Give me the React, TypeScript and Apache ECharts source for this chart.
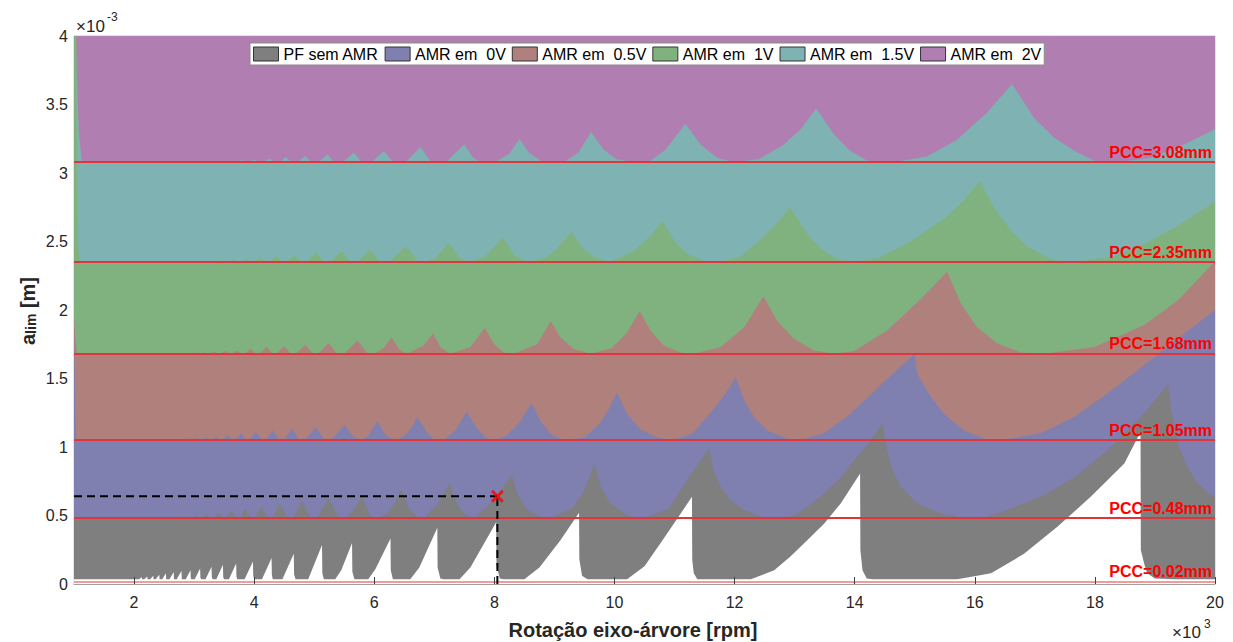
import React, { useEffect, useRef } from 'react';
import * as echarts from 'echarts';

const FONT = "'Liberation Sans', Arial, Helvetica, sans-serif";

// x: rotation in thousands of rpm (axis shows x10^3); y: a_lim in units of 1e-3 m (axis shows x10^-3)
const xTickValues = [2, 4, 6, 8, 10, 12, 14, 16, 18, 20];

const seriesNames = ['PF sem AMR', 'AMR em  0V', 'AMR em  0.5V', 'AMR em  1V', 'AMR em  1.5V', 'AMR em  2V'];
const seriesColors = ['#7f7f7f', '#7f7fb0', '#b0807c', '#80b280', '#7fb2b2', '#b07eb0'];

const pccValues = [3.08, 2.35, 1.68, 1.05, 0.48, 0.02];
const pccLabels = ['PCC=3.08mm', 'PCC=2.35mm', 'PCC=1.68mm', 'PCC=1.05mm', 'PCC=0.48mm', 'PCC=0.02mm'];

const pointRpm = 8.05;
const pointALim = 0.64;

const curve2V = [[1.0, 4.0], [20.0, 4.0]];

const curve15V = [
  [1.0, 4.2], [1.05, 3.7], [1.08, 3.3], [1.13, 3.08],
  [3.45, 3.08], [3.6, 3.09], [3.66, 3.08], [3.72, 3.08], [3.79, 3.095], [3.85, 3.08], [3.91, 3.08],
  [4.0, 3.1], [4.07, 3.08], [4.15, 3.08], [4.26, 3.105], [4.34, 3.08], [4.42, 3.08], [4.53, 3.115],
  [4.62, 3.08], [4.72, 3.08], [4.85, 3.125], [4.95, 3.08], [5.07, 3.08], [5.22, 3.135], [5.33, 3.08],
  [5.48, 3.08], [5.66, 3.15], [5.79, 3.08], [5.96, 3.08], [6.16, 3.16], [6.31, 3.08], [6.52, 3.08],
  [6.77, 3.19], [6.93, 3.09], [7.0, 3.08], [7.22, 3.09], [7.5, 3.21], [7.65, 3.11], [7.78, 3.08],
  [8.05, 3.09], [8.25, 3.14], [8.42, 3.25], [8.57, 3.15], [8.77, 3.09], [8.93, 3.08], [9.2, 3.09],
  [9.4, 3.15], [9.61, 3.3], [9.82, 3.17], [10.04, 3.1], [10.32, 3.08], [10.6, 3.09], [10.85, 3.17],
  [11.18, 3.36], [11.43, 3.21], [11.71, 3.11], [11.99, 3.08], [12.4, 3.1], [12.8, 3.2], [13.1, 3.32],
  [13.36, 3.47], [13.66, 3.28], [13.93, 3.16], [14.21, 3.09], [14.66, 3.08], [15.2, 3.12], [15.7, 3.24],
  [16.2, 3.44], [16.62, 3.65], [16.99, 3.4], [17.32, 3.26], [17.66, 3.16], [17.99, 3.09], [18.38, 3.08],
  [18.93, 3.11], [19.49, 3.21], [20.0, 3.32],
];

const curve1V = [
  [1.0, 4.2], [1.04, 4.0], [1.05, 2.8], [1.07, 2.45], [1.1, 2.35], [3.2, 2.35], [3.29, 2.36], [3.35, 2.35],
  [3.4, 2.35], [3.47, 2.365], [3.54, 2.35], [3.58, 2.35], [3.66, 2.37], [3.74, 2.35], [3.78, 2.35],
  [3.86, 2.375], [3.95, 2.35], [4.0, 2.35], [4.1, 2.385], [4.2, 2.35], [4.25, 2.35], [4.37, 2.395],
  [4.48, 2.35], [4.54, 2.35], [4.67, 2.4], [4.79, 2.35], [4.87, 2.35], [5.03, 2.42], [5.16, 2.35],
  [5.26, 2.35], [5.46, 2.43], [5.6, 2.35], [5.72, 2.35], [5.93, 2.44], [6.1, 2.35], [6.25, 2.35],
  [6.53, 2.465], [6.72, 2.36], [6.8, 2.35], [7.0, 2.37], [7.24, 2.49], [7.42, 2.38], [7.58, 2.35],
  [7.85, 2.39], [8.14, 2.53], [8.34, 2.4], [8.55, 2.35], [8.85, 2.38], [9.05, 2.45], [9.28, 2.57],
  [9.46, 2.46], [9.66, 2.385], [9.93, 2.35], [10.32, 2.43], [10.6, 2.54], [10.8, 2.65], [10.99, 2.51],
  [11.21, 2.41], [11.54, 2.35], [11.76, 2.35], [12.1, 2.39], [12.45, 2.52], [12.7, 2.63], [12.92, 2.75],
  [13.21, 2.555], [13.43, 2.45], [13.71, 2.37], [13.99, 2.35], [14.4, 2.38], [14.93, 2.5], [15.5, 2.67],
  [15.8, 2.79], [16.08, 2.94], [16.32, 2.75], [16.6, 2.58], [16.88, 2.46], [17.27, 2.37], [17.6, 2.35],
  [18.27, 2.385], [18.82, 2.48], [19.38, 2.615], [20.0, 2.79],
];

const curve05V = [
  [1.0, 1.95], [1.02, 1.8], [1.05, 1.68], [2.8, 1.68], [2.88, 1.688], [2.93, 1.68], [2.96, 1.68],
  [3.02, 1.69], [3.08, 1.68], [3.1, 1.68], [3.17, 1.692], [3.23, 1.68], [3.26, 1.68], [3.33, 1.695],
  [3.4, 1.68], [3.44, 1.68], [3.52, 1.7], [3.6, 1.68], [3.63, 1.68], [3.71, 1.705], [3.79, 1.68],
  [3.84, 1.68], [3.94, 1.717], [4.03, 1.68], [4.09, 1.68], [4.21, 1.73], [4.31, 1.68], [4.37, 1.68],
  [4.5, 1.736], [4.61, 1.68], [4.69, 1.68], [4.85, 1.746], [4.98, 1.68], [5.06, 1.68], [5.24, 1.76],
  [5.38, 1.68], [5.5, 1.68], [5.72, 1.78], [5.87, 1.69], [6.0, 1.68], [6.15, 1.72], [6.29, 1.8],
  [6.42, 1.71], [6.54, 1.68], [6.82, 1.74], [6.98, 1.83], [7.1, 1.73], [7.27, 1.68], [7.6, 1.73],
  [7.84, 1.87], [7.99, 1.754], [8.16, 1.69], [8.32, 1.68], [8.71, 1.75], [8.94, 1.92], [9.1, 1.8],
  [9.32, 1.717], [9.6, 1.68], [9.95, 1.72], [10.2, 1.83], [10.42, 1.99], [10.6, 1.85], [10.82, 1.74],
  [11.1, 1.69], [11.32, 1.68], [11.77, 1.73], [12.16, 1.875], [12.48, 2.1], [12.71, 1.92], [12.99, 1.79],
  [13.32, 1.705], [13.66, 1.68], [13.99, 1.7], [14.54, 1.85], [15.1, 2.08], [15.54, 2.28], [15.77, 2.045],
  [16.04, 1.875], [16.38, 1.754], [16.77, 1.69], [17.16, 1.68], [17.99, 1.73], [18.82, 1.89],
  [19.38, 2.07], [20.0, 2.355],
];

const curve0V = [
  [1.0, 1.9], [1.02, 1.3], [1.04, 1.05], [2.4, 1.05], [2.46, 1.055], [2.5, 1.05], [2.58, 1.05],
  [2.63, 1.058], [2.67, 1.05], [2.71, 1.05], [2.76, 1.06], [2.8, 1.05], [2.84, 1.05], [2.89, 1.063],
  [2.94, 1.05], [2.97, 1.05], [3.03, 1.066], [3.09, 1.05], [3.12, 1.05], [3.19, 1.07], [3.25, 1.05],
  [3.29, 1.05], [3.37, 1.075], [3.44, 1.05], [3.47, 1.05], [3.56, 1.086], [3.64, 1.05], [3.68, 1.05],
  [3.78, 1.1], [3.87, 1.05], [3.92, 1.05], [4.03, 1.11], [4.13, 1.05], [4.19, 1.05], [4.31, 1.12],
  [4.42, 1.05], [4.49, 1.05], [4.63, 1.134], [4.76, 1.05], [4.85, 1.05], [5.03, 1.146], [5.17, 1.05],
  [5.28, 1.05], [5.51, 1.16], [5.64, 1.08], [5.78, 1.05], [5.9, 1.08], [6.05, 1.19], [6.2, 1.08],
  [6.35, 1.05], [6.5, 1.08], [6.62, 1.14], [6.72, 1.22], [6.87, 1.11], [7.0, 1.05], [7.15, 1.05],
  [7.35, 1.12], [7.54, 1.26], [7.7, 1.14], [7.85, 1.07], [8.0, 1.05], [8.2, 1.08], [8.42, 1.18],
  [8.62, 1.32], [8.78, 1.18], [8.95, 1.09], [9.15, 1.05], [9.5, 1.07], [9.75, 1.17], [9.9, 1.27],
  [10.04, 1.4], [10.21, 1.24], [10.43, 1.13], [10.71, 1.07], [10.99, 1.05], [11.3, 1.1], [11.6, 1.25],
  [11.85, 1.39], [12.02, 1.51], [12.16, 1.34], [12.32, 1.22], [12.54, 1.12], [12.88, 1.06], [13.1, 1.05],
  [13.49, 1.1], [13.93, 1.24], [14.38, 1.43], [14.82, 1.61], [15.0, 1.68], [15.04, 1.535], [15.27, 1.365],
  [15.49, 1.24], [15.82, 1.12], [16.16, 1.06], [16.43, 1.05], [17.1, 1.1], [17.66, 1.22], [18.21, 1.39],
  [18.77, 1.58], [19.38, 1.79], [20.0, 2.0],
];

// upper edge of the "PF sem AMR" band
const curvePF = [
  [1.0, 0.48], [2.44, 0.48], [2.49, 0.488], [2.53, 0.48], [2.59, 0.48], [2.63, 0.49], [2.67, 0.48],
  [2.72, 0.48], [2.77, 0.493], [2.82, 0.48], [2.86, 0.48], [2.91, 0.497], [2.96, 0.48], [2.99, 0.48],
  [3.04, 0.503], [3.1, 0.48], [3.14, 0.48], [3.21, 0.51], [3.28, 0.48], [3.33, 0.48], [3.41, 0.52],
  [3.49, 0.48], [3.53, 0.48], [3.62, 0.535], [3.71, 0.48], [3.76, 0.48], [3.85, 0.55], [3.95, 0.48],
  [4.01, 0.48], [4.12, 0.565], [4.23, 0.48], [4.3, 0.48], [4.43, 0.585], [4.56, 0.48], [4.65, 0.48],
  [4.8, 0.605], [4.94, 0.48], [5.05, 0.48], [5.24, 0.625], [5.4, 0.49], [5.5, 0.48], [5.65, 0.53],
  [5.79, 0.645], [5.93, 0.5], [6.05, 0.48], [6.2, 0.51], [6.33, 0.58], [6.45, 0.69], [6.58, 0.55],
  [6.72, 0.49], [6.82, 0.48], [7.05, 0.58], [7.26, 0.735], [7.35, 0.61], [7.49, 0.515], [7.66, 0.48],
  [7.99, 0.61], [8.29, 0.795], [8.38, 0.66], [8.55, 0.54], [8.77, 0.49], [8.93, 0.48], [9.32, 0.56],
  [9.5, 0.69], [9.67, 0.875], [9.77, 0.71], [9.93, 0.59], [10.21, 0.5], [10.49, 0.48], [10.9, 0.55],
  [11.27, 0.8], [11.58, 0.99], [11.65, 0.83], [11.77, 0.71], [11.93, 0.61], [12.16, 0.54], [12.45, 0.49],
  [12.7, 0.48], [13.0, 0.5], [13.21, 0.563], [13.49, 0.66], [13.77, 0.78], [14.04, 0.93], [14.27, 1.05],
  [14.46, 1.17], [14.54, 0.976], [14.63, 0.83], [14.77, 0.71], [15.04, 0.59], [15.43, 0.515], [15.88, 0.48],
  [16.2, 0.49], [16.54, 0.54], [17.1, 0.636], [17.66, 0.78], [18.21, 0.976], [18.77, 1.22], [19.22, 1.46],
  [19.27, 1.27], [19.38, 1.025], [19.54, 0.855], [19.71, 0.734], [19.9, 0.66], [20.0, 0.64],
];

// lower edge of the "PF sem AMR" band (white gaps below it)
const curvePFLower = [
  [1.0, 0.035], [2.08, 0.035], [2.13, 0.05], [2.135, 0.035], [2.17, 0.035], [2.22, 0.055], [2.225, 0.035],
  [2.27, 0.035], [2.32, 0.06], [2.325, 0.035], [2.36, 0.035], [2.42, 0.068], [2.425, 0.035], [2.47, 0.035],
  [2.53, 0.078], [2.535, 0.035], [2.59, 0.035], [2.66, 0.087], [2.665, 0.035], [2.71, 0.035], [2.79, 0.095],
  [2.795, 0.035], [2.86, 0.035], [2.94, 0.1], [2.945, 0.04], [2.96, 0.035], [3.01, 0.035], [3.1, 0.114],
  [3.105, 0.045], [3.12, 0.035], [3.19, 0.035], [3.29, 0.126], [3.295, 0.05], [3.31, 0.035], [3.37, 0.035],
  [3.48, 0.14], [3.485, 0.05], [3.5, 0.035], [3.58, 0.035], [3.7, 0.15], [3.705, 0.055], [3.72, 0.035],
  [3.84, 0.035], [3.98, 0.165], [3.985, 0.06], [4.0, 0.035], [4.13, 0.035], [4.29, 0.19], [4.295, 0.065],
  [4.31, 0.035], [4.47, 0.035], [4.66, 0.22], [4.665, 0.07], [4.69, 0.035], [4.9, 0.035], [5.13, 0.284],
  [5.135, 0.08], [5.16, 0.035], [5.35, 0.035], [5.45, 0.1], [5.63, 0.3], [5.635, 0.09], [5.67, 0.035],
  [5.9, 0.035], [6.02, 0.11], [6.27, 0.333], [6.275, 0.1], [6.31, 0.035], [6.6, 0.035], [6.75, 0.12],
  [7.05, 0.41], [7.055, 0.12], [7.1, 0.04], [7.15, 0.035], [7.42, 0.035], [7.6, 0.12], [8.03, 0.45],
  [8.035, 0.14], [8.09, 0.04], [8.15, 0.035], [8.5, 0.035], [8.75, 0.12], [9.1, 0.32], [9.41, 0.52],
  [9.415, 0.18], [9.46, 0.06], [9.55, 0.035], [10.21, 0.035], [10.5, 0.13], [10.8, 0.32], [11.05, 0.48],
  [11.29, 0.636], [11.295, 0.175], [11.32, 0.078], [11.38, 0.035], [12.27, 0.035], [12.66, 0.1],
  [12.93, 0.2], [13.21, 0.32], [13.49, 0.44], [13.77, 0.59], [14.09, 0.807], [14.095, 0.248], [14.13, 0.1],
  [14.2, 0.04], [14.3, 0.035], [15.71, 0.035], [16.27, 0.078], [16.82, 0.22], [17.38, 0.42], [17.93, 0.636],
  [18.49, 0.88], [18.76, 1.11], [18.765, 0.248], [18.82, 0.15], [18.87, 0.078], [19.0, 0.04], [19.32, 0.035],
  [20.0, 0.035],
];

const txt = (x: number, y: number, text: string, size: number, extra: any = {}) => ({
  type: 'text', x, y, silent: true,
  style: {
    text, fontSize: size, fontFamily: FONT, fill: '#262626',
    align: 'left', verticalAlign: 'middle', ...extra,
  },
});

export default function App() {
  const ref = useRef<HTMLDivElement>(null);

  useEffect(() => {
    if (!ref.current) return;
    const chart = echarts.init(ref.current, null, { renderer: 'svg' });

    const area = (name: string, data: number[][], color: string) => ({
      name,
      type: 'line',
      data,
      symbol: 'none',
      showSymbol: false,
      silent: true,
      lineStyle: { width: 0, opacity: 0 },
      itemStyle: { color },
      areaStyle: { color, opacity: 1 },
      emphasis: { disabled: true },
    });

    const dashStyle = { color: '#000', width: 2, type: [8, 5] };

    const option: any = {
      animation: false,
      backgroundColor: '#ffffff',
      grid: {
        left: 74, right: 18, top: 36, bottom: 58,
        show: true, borderColor: '#c8c8c8', borderWidth: 1, backgroundColor: 'transparent',
      },
      legend: {
        data: seriesNames.map((n, i) => ({
          name: n,
          icon: 'rect',
          itemStyle: { color: seriesColors[i], borderColor: '#333', borderWidth: 1 },
        })),
        left: 250, top: 43, orient: 'horizontal',
        itemWidth: 25, itemHeight: 14, itemGap: 6,
        padding: [3, 3, 3, 3],
        backgroundColor: '#ffffff', borderColor: '#8c8c8c', borderWidth: 1,
        textStyle: { fontSize: 16, color: '#000', fontFamily: FONT },
        selectedMode: false,
      },
      xAxis: {
        type: 'value', min: 1, max: 20,
        z: 10,
        axisLine: { show: true, lineStyle: { color: '#a0a0a0', width: 1 } },
        axisTick: { show: true, inside: true, length: 7, customValues: xTickValues, lineStyle: { color: '#404040' } },
        axisLabel: { customValues: xTickValues, fontSize: 16, color: '#262626', margin: 10, fontFamily: FONT },
        splitLine: { show: false },
      },
      yAxis: {
        type: 'value', min: 0, max: 4, interval: 0.5,
        axisLine: { show: true, lineStyle: { color: '#a0a0a0', width: 1 } },
        axisTick: { show: false },
        axisLabel: { fontSize: 16, color: '#262626', margin: 6, fontFamily: FONT },
        splitLine: { show: false },
      },
      series: [
        area(seriesNames[5], curve2V, seriesColors[5]),
        area(seriesNames[4], curve15V, seriesColors[4]),
        area(seriesNames[3], curve1V, seriesColors[3]),
        area(seriesNames[2], curve05V, seriesColors[2]),
        area(seriesNames[1], curve0V, seriesColors[1]),
        area(seriesNames[0], curvePF, seriesColors[0]),
        area('PF lower', curvePFLower, '#ffffff'),
        {
          name: 'PCC',
          type: 'line',
          data: [[1, 0.02]],
          symbol: 'none',
          silent: true,
          lineStyle: { width: 0, opacity: 0 },
          z: 5,
          markLine: {
            silent: true,
            animation: false,
            symbol: ['none', 'none'],
            emphasis: { disabled: true },
            label: {
              show: true,
              position: 'insideEndTop',
              formatter: '{b}',
              color: '#ff0000',
              fontWeight: 'bold',
              fontSize: 16,
              fontFamily: FONT,
              distance: [3, 2],
            },
            data: pccValues.map((v, i) => ({
              yAxis: v,
              name: pccLabels[i],
              lineStyle: {
                color: i === pccValues.length - 1 ? '#f59a9a' : '#e0353c',
                width: i === pccValues.length - 1 ? 2 : 1.8,
                type: 'solid',
              },
            })),
          },
        },
        {
          name: 'guideH', type: 'line', data: [[1, pointALim], [pointRpm, pointALim]],
          symbol: 'none', silent: true, lineStyle: dashStyle, z: 6,
        },
        {
          name: 'guideV', type: 'line', data: [[pointRpm, 0], [pointRpm, pointALim]],
          symbol: 'none', silent: true, lineStyle: dashStyle, z: 6,
        },
        {
          name: 'point', type: 'scatter', data: [[pointRpm, pointALim]],
          symbol: 'path://M2,0 L6,4 L10,0 L12,2 L8,6 L12,10 L10,12 L6,8 L2,12 L0,10 L4,6 L0,2 Z',
          symbolSize: 13, itemStyle: { color: '#ff0000' }, silent: true, z: 7,
        },
      ],
      graphic: [
        txt(76, 26, '×10', 17),
        txt(107, 17, '-3', 12),
        txt(1172, 632, '×10', 17),
        txt(1204, 624, '3', 12),
        txt(633, 630, 'Rotação eixo-árvore [rpm]', 20, { fontWeight: 'bold', align: 'center' }),
        {
          type: 'text', x: 25, y: 311, rotation: Math.PI / 2, silent: true,
          style: {
            text: '{a|a}{s|lim}{a| [m]}',
            align: 'center', verticalAlign: 'middle',
            rich: {
              a: { fontSize: 20, fontWeight: 'bold', lineHeight: 26, verticalAlign: 'bottom', fill: '#262626', fontFamily: FONT },
              s: { fontSize: 14, fontWeight: 'bold', lineHeight: 14, verticalAlign: 'bottom', fill: '#262626', fontFamily: FONT },
            },
          },
        },
      ],
    };

    chart.setOption(option);
    return () => chart.dispose();
  }, []);

  return (
    <div
      ref={ref}
      style={{ position: 'fixed', left: 0, top: 0, width: 1233, height: 642, background: '#fff' }}
    />
  );
}
